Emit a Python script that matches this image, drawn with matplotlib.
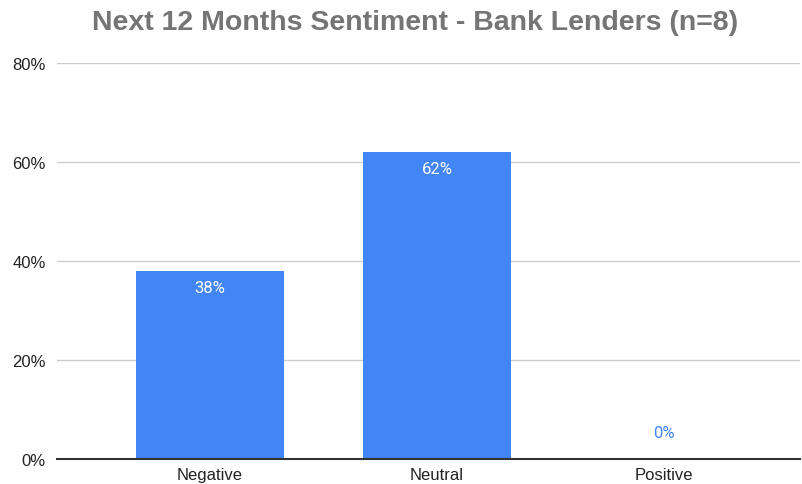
import matplotlib
matplotlib.use("Agg")
import matplotlib.pyplot as plt
from matplotlib.ticker import FuncFormatter

# Sentiment split for bank lenders, in percent
categories = ["Negative", "Neutral", "Positive"]
shares = [38, 62, 0]
y_ticks = [0, 20, 40, 60, 80]

bar_color = "#4285F4"

fig = plt.figure(figsize=(8.02, 4.85), dpi=100)
ax = fig.add_axes([0.071, 0.0515, 0.9265, 0.8165])

x = range(len(categories))
bars = ax.bar(x, shares, width=0.65, color=bar_color, zorder=3)

ax.set_xlim(-0.675, 2.6)
ax.set_ylim(0, 80)
ax.set_yticks(y_ticks)
ax.yaxis.set_major_formatter(FuncFormatter(lambda v, _: f"{v:.0f}%"))
ax.set_xticks(list(x))
ax.set_xticklabels(categories)

ax.grid(axis="y", color="#cccccc", linewidth=1, zorder=0)
for side in ["top", "right", "left"]:
    ax.spines[side].set_visible(False)
ax.spines["bottom"].set_color("#333333")
ax.spines["bottom"].set_linewidth(1.5)
ax.spines["bottom"].set_zorder(4)
ax.tick_params(axis="both", length=0, labelsize=12, colors="#222222",
               labelfontfamily="Liberation Sans")
ax.tick_params(axis="y", pad=8)
ax.tick_params(axis="x", pad=5.5)

# value labels: inside the bar top, or above the axis for empty bars
for rect, val in zip(bars, shares):
    cx = rect.get_x() + rect.get_width() / 2
    if val > 0:
        ax.annotate(f"{val}%", (cx, val), xytext=(0, -6.5), textcoords="offset points",
                    ha="center", va="top", color="white", fontsize=12,
                    family="Roboto", zorder=5)
    else:
        ax.annotate(f"{val}%", (cx, val), xytext=(0, 14), textcoords="offset points",
                    ha="center", va="bottom", color=bar_color, fontsize=12,
                    family="Roboto", zorder=5)

fig.text(0.517, 0.952, "Next 12 Months Sentiment - Bank Lenders (n=8)",
         ha="center", va="center", fontsize=20.5, fontweight="bold",
         color="#757575", family="Liberation Sans")

fig.savefig("out.png", dpi=100)
